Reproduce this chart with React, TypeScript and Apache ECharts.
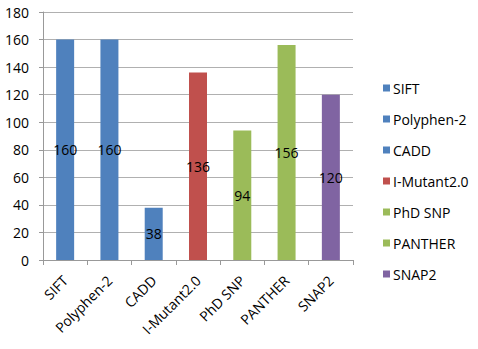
import React, { useEffect, useRef } from "react";
import * as echarts from "echarts";

const categories = ["SIFT", "Polyphen-2", "CADD", "I-Mutant2.0", "PhD SNP", "PANTHER", "SNAP2"];
const values = [160, 160, 38, 136, 94, 156, 120];
const colors = ["#4F81BD", "#4F81BD", "#4F81BD", "#C0504D", "#9BBB59", "#9BBB59", "#8064A2"];
const yTicks = { min: 0, max: 180, interval: 20 };

export default function App() {
  const ref = useRef<HTMLDivElement>(null);
  useEffect(() => {
    if (!ref.current) return;
    const chart = echarts.init(ref.current, undefined, { renderer: "svg" });
    const font = "'Open Sans', 'Noto Sans', sans-serif";
    const series = categories.map((name, i) => ({
      name,
      type: "bar" as const,
      data: values.map((v, j) => (j === i ? v : null)),
      barWidth: 18,
      barGap: "-100%",
      itemStyle: { color: colors[i] },
      label: {
        show: true,
        position: "inside",
        color: "#000",
        fontSize: 14,
        fontFamily: font,
      },
    }));
    chart.setOption({
      animation: false,
      backgroundColor: "#fff",
      grid: { left: 43, right: 125, top: 12, bottom: 89 },
      legend: {
        orient: "vertical",
        left: 378,
        top: 75,
        itemWidth: 7,
        itemHeight: 7,
        itemGap: 15,
        icon: "rect",
        textStyle: { fontSize: 14, lineHeight: 16, color: "#000", fontFamily: font, padding: [0, 0, 0, -2] },
        data: categories,
      },
      xAxis: {
        type: "category",
        data: categories,
        axisLine: { lineStyle: { color: "#999", width: 1 } },
        axisTick: { show: true, length: 5, lineStyle: { color: "#999" } },
        axisLabel: {
          interval: 0,
          rotate: 45,
          fontSize: 14,
          color: "#000",
          fontFamily: font,
          margin: 18,
        },
      },
      yAxis: {
        type: "value",
        min: yTicks.min,
        max: yTicks.max,
        interval: yTicks.interval,
        axisLine: { show: true, lineStyle: { color: "#999", width: 1 } },
        axisTick: { show: true, length: 4, lineStyle: { color: "#999" } },
        splitLine: { lineStyle: { color: "#B0B0B0", width: 1 } },
        axisLabel: { fontSize: 14, color: "#000", fontFamily: font, margin: 14 },
      },
      series,
    });
    return () => chart.dispose();
  }, []);
  return <div ref={ref} style={{ width: 478, height: 349, position: "absolute", left: 0, top: 0 }} />;
}
